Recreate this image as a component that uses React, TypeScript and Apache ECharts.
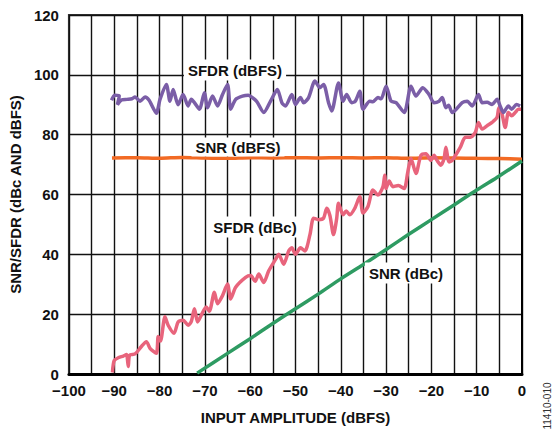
import React, { useEffect, useRef } from "react";
import * as echarts from "echarts";

const xTicks = [-100, -90, -80, -70, -60, -50, -40, -30, -20, -10, 0];
const yTicks = [0, 20, 40, 60, 80, 100, 120];

const sfdrDbfs: [number, number][] = [
  [-90.6, 91.5], [-89.9, 93.2], [-88.9, 93.0], [-89.3, 90.0], [-88.4, 91.6],
  [-87.2, 91.8], [-86.1, 92.0], [-85.4, 92.6], [-84.3, 91.2], [-83.2, 92.6], [-82.3, 91.5],
  [-80.7, 87.2], [-79.9, 91.8], [-78.5, 96.8], [-77.7, 91.2], [-77.0, 95.1], [-75.9, 90.0],
  [-74.8, 93.4], [-73.7, 89.6], [-73.0, 91.8], [-72.3, 90.7], [-71.2, 88.5], [-70.1, 94.0],
  [-69.4, 89.0], [-68.3, 92.9], [-67.2, 89.6], [-66.1, 93.4], [-65.0, 96.8], [-64.3, 88.5],
  [-63.2, 91.8], [-61.7, 92.9], [-60.4, 93.2], [-59.5, 92.4], [-58.5, 91.0], [-57.0, 87.4],
  [-55.5, 91.2], [-54.0, 95.1], [-53.0, 90.7], [-52.2, 89.6], [-50.8, 93.4], [-50.0, 90.1],
  [-48.9, 92.4], [-48.2, 90.7], [-47.1, 92.4], [-45.7, 97.9], [-44.6, 95.7], [-43.8, 96.8],
  [-42.7, 90.7], [-42.0, 87.9], [-40.5, 97.3], [-39.5, 91.2], [-38.7, 93.4], [-37.6, 90.7],
  [-36.8, 91.2], [-35.8, 94.5], [-35.1, 88.5], [-33.6, 91.2], [-32.9, 91.0], [-31.8, 92.4],
  [-31.1, 92.0], [-30.0, 96.2], [-28.9, 91.2], [-27.8, 90.7], [-26.0, 87.4], [-24.5, 96.2],
  [-23.4, 92.9], [-21.9, 95.7], [-20.5, 93.4], [-19.4, 90.7], [-18.3, 91.2], [-17.6, 92.4],
  [-16.8, 89.0], [-16.2, 89.8], [-15.4, 87.4], [-13.2, 90.7], [-12.1, 91.2], [-11.0, 89.6],
  [-9.6, 93.4], [-8.8, 90.7], [-7.7, 90.8], [-6.6, 90.1], [-5.5, 91.8], [-4.8, 89.5],
  [-4.1, 87.4], [-3.0, 89.6], [-2.3, 88.5], [-1.2, 90.1], [-0.4, 89.6],
];

const sfdrDbc: [number, number][] = [
  [-90.4, 0.5], [-90.0, 4.5], [-89.0, 5.5], [-88.0, 6.0], [-87.3, 6.5], [-86.9, 2.5],
  [-86.6, 6.3], [-85.4, 6.7], [-84.0, 9.2], [-82.9, 10.8], [-82.1, 8.6], [-80.7, 6.9],
  [-80.3, 12.5], [-79.8, 11.0], [-78.8, 19.1], [-78.1, 16.3], [-76.8, 13.6], [-75.9, 17.4],
  [-74.8, 18.0], [-73.7, 16.3], [-73.0, 17.5], [-72.3, 21.8], [-71.6, 17.4], [-70.8, 19.6],
  [-69.7, 22.4], [-69.0, 21.0], [-67.9, 27.3], [-67.2, 23.5], [-66.1, 26.2], [-65.0, 30.1],
  [-64.3, 25.1], [-63.2, 29.0], [-61.0, 32.3], [-59.9, 32.9], [-58.9, 31.0], [-58.1, 33.4],
  [-57.0, 30.6], [-55.9, 34.5], [-54.4, 38.3], [-53.7, 40.0], [-52.6, 36.7], [-51.5, 41.1],
  [-50.8, 42.2], [-50.0, 40.0], [-48.9, 42.2], [-47.9, 41.1], [-46.8, 46.6], [-46.0, 52.1],
  [-44.9, 51.6], [-43.8, 52.1], [-43.1, 55.4], [-42.4, 53.0], [-41.6, 46.6], [-40.9, 52.0],
  [-40.5, 57.1], [-39.5, 53.2], [-38.8, 54.5], [-38.0, 53.2], [-36.9, 55.4], [-35.8, 59.3],
  [-35.1, 53.8], [-34.0, 56.0], [-32.9, 61.5], [-31.8, 59.8], [-30.7, 62.6], [-30.3, 66.4],
  [-30.0, 62.0], [-29.3, 64.5], [-28.5, 62.6], [-27.3, 63.0], [-26.0, 62.0], [-25.2, 67.6],
  [-24.5, 72.0], [-23.4, 67.0], [-22.3, 73.1], [-21.2, 73.6], [-20.1, 71.4], [-19.4, 73.1],
  [-18.8, 71.5], [-17.9, 69.8], [-17.2, 72.0], [-16.8, 75.8], [-16.1, 70.9], [-15.4, 71.4],
  [-13.6, 75.8], [-12.5, 79.1], [-11.4, 79.1], [-10.3, 80.8], [-9.6, 84.1], [-8.8, 81.9],
  [-7.7, 83.0], [-6.6, 84.1], [-5.5, 85.8], [-5.1, 89.0], [-4.5, 87.5], [-3.7, 82.4],
  [-3.0, 87.4], [-2.3, 86.3], [-1.5, 87.4], [-0.8, 88.5], [-0.2, 88.5],
];

const snrDbfs: [number, number][] = [
  [-90.5, 72.2], [-85, 72.3], [-80, 72.1], [-75, 72.4], [-70, 72.2], [-65, 72.1],
  [-60, 72.3], [-55, 72.2], [-50, 72.3], [-45, 72.2], [-40, 72.3], [-35, 72.2],
  [-30, 72.3], [-25, 72.1], [-20, 72.3], [-15, 72.2], [-10, 72.1], [-5, 72.0], [0, 71.8],
];

const snrDbc: [number, number][] = [
  [-71.7, 0.3], [-65, 6.9], [-60, 11.8], [-55, 16.9], [-50, 21.8], [-45, 26.7],
  [-40, 31.8], [-35, 36.6], [-30, 41.6], [-25, 46.7], [-20, 51.6], [-15, 56.5],
  [-10, 61.5], [-5, 66.2], [0, 71.2],
];

const FONT = "'Liberation Sans', Arial, sans-serif";

export default function App() {
  const ref = useRef<HTMLDivElement>(null);
  useEffect(() => {
    if (!ref.current) return;
    const chart = echarts.init(ref.current, null, { renderer: "svg" });
    const lineSeries = (name: string, data: [number, number][], color: string, z: number) => ({
      name,
      type: "line",
      data,
      showSymbol: false,
      symbol: "none",
      smooth: 0.25,
      z,
      lineStyle: { color, width: 3.5 },
    });
    const label = (text: string, x: number, y: number, padding: number[] = [3, 4]) => ({
      type: "text",
      x,
      y,
      z: 100,
      style: {
        text,
        fill: "#111",
        font: `bold 15px ${FONT}`,
        align: "center",
        verticalAlign: "middle",
        backgroundColor: "#fff",
        padding,
      },
    });
    chart.setOption({
      animation: false,
      backgroundColor: "#fff",
      textStyle: { fontFamily: FONT },
      grid: { left: 65, right: 30, top: 15, bottom: 52, show: true, borderColor: "#333", borderWidth: 2 },
      xAxis: {
        type: "value",
        min: -100,
        max: 0,
        interval: 5,
        axisLine: { show: true, onZero: false, lineStyle: { color: "#000", width: 3 } },
        axisTick: { show: false },
        splitLine: { show: true, lineStyle: { color: "#111", width: 1.4 } },
        axisLabel: {
          color: "#111",
          fontWeight: "bold",
          fontSize: 15,
          fontFamily: FONT,
          margin: 9,
          formatter: (v: number) =>
            xTicks.includes(v) ? (v < 0 ? "\u2212" + Math.abs(v) : String(v)) : "",
        },
        name: "INPUT AMPLITUDE (dBFS)",
        nameLocation: "middle",
        nameGap: 36,
        nameTextStyle: { color: "#111", fontWeight: "bold", fontSize: 15, fontFamily: FONT },
      },
      yAxis: {
        type: "value",
        min: 0,
        max: 120,
        interval: 20,
        axisLine: { show: true, lineStyle: { color: "#000", width: 2 } },
        axisTick: { show: false },
        splitLine: { show: true, lineStyle: { color: "#111", width: 1.4 } },
        axisLabel: {
          color: "#111",
          fontWeight: "bold",
          fontSize: 15,
          fontFamily: FONT,
          margin: 10,
          formatter: (v: number) => (yTicks.includes(v) ? String(v) : ""),
        },
        name: "SNR/SFDR (dBc AND dBFS)",
        nameLocation: "middle",
        nameGap: 40,
        nameTextStyle: { color: "#111", fontWeight: "bold", fontSize: 15, fontFamily: FONT },
      },
      series: [
        lineSeries("SNR (dBFS)", snrDbfs, "#F26A24", 3),
        lineSeries("SNR (dBc)", snrDbc, "#2E9B62", 4),
        lineSeries("SFDR (dBc)", sfdrDbc, "#E8647C", 5),
        lineSeries("SFDR (dBFS)", sfdrDbfs, "#7B5EA7", 6),
      ],
      graphic: [
        label("SFDR (dBFS)", 235, 70),
        label("SNR (dBFS)", 238, 147, [3, 4, 1, 4]),
        label("SFDR (dBc)", 255, 227),
        label("SNR (dBc)", 406, 273),
        {
          type: "text",
          x: 547,
          y: 406,
          rotation: Math.PI / 2,
          z: 100,
          style: {
            text: "11410-010",
            fill: "#333",
            font: `10px ${FONT}`,
            align: "center",
            verticalAlign: "middle",
          },
        },
      ],
    });
    return () => chart.dispose();
  }, []);
  return (
    <div
      ref={ref}
      style={{ position: "fixed", left: 0, top: 0, width: 552, height: 430, background: "#fff" }}
    />
  );
}
